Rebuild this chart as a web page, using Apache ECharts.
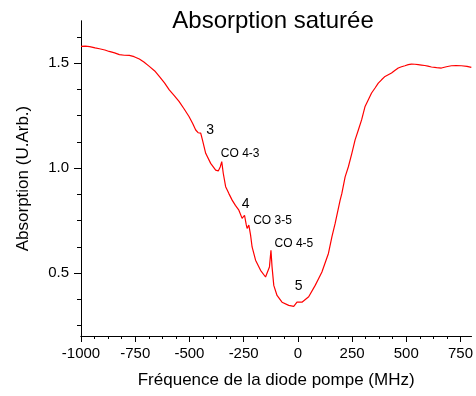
<!DOCTYPE html>
<html>
<head>
<meta charset="utf-8">
<script src="https://cdn.jsdelivr.net/npm/echarts@6/dist/echarts.min.js"></script>
<style>
  html, body { margin: 0; padding: 0; background: #fff; }
  #chart { width: 476px; height: 396px; }
</style>
</head>
<body>
<div id="chart"></div>
<script>
// Saturated-absorption scan: pump diode detuning (MHz) vs absorption (arb. units)
const frequency = [
  -1000, -980, -960, -935, -915, -890, -870, -845, -823, -800, -777, -755, -731, -710,
  -685, -660, -639, -615, -593, -570, -548, -525, -502, -485, -471, -460, -448,
  -440, -425, -402, -379, -367, -358, -351, -344, -333, -318, -303, -288, -272,
  -257, -246, -238, -234, -226, -218, -211, -195, -172, -149, -142, -131, -124,
  -119, -111, -96, -73, -42, -19, -4, 4, 19, 50, 80, 96, 111, 141, 157, 172, 195,
  203, 218, 233, 249, 264, 279, 294, 310, 325, 340, 356, 371, 386, 402, 417, 432,
  447, 463, 478, 494, 509, 524, 540, 555, 570, 585, 600, 616, 640, 662, 685, 708,
  730, 754, 780, 800
];
const absorption = [
  1.579, 1.580, 1.578, 1.572, 1.568, 1.562, 1.555, 1.548, 1.540, 1.537, 1.536, 1.530, 1.519, 1.505,
  1.484, 1.462, 1.436, 1.405, 1.372, 1.345, 1.317, 1.282, 1.245, 1.212, 1.181, 1.168, 1.166,
  1.134, 1.070, 1.022, 0.990, 0.986, 1.005, 1.030, 0.975, 0.911, 0.878, 0.847, 0.822, 0.799,
  0.760, 0.775, 0.730, 0.712, 0.728, 0.680, 0.624, 0.561, 0.513, 0.481, 0.473, 0.529, 0.608,
  0.529, 0.441, 0.393, 0.361, 0.346, 0.341, 0.361, 0.354, 0.361, 0.387, 0.441, 0.474, 0.505, 0.593, 0.672, 0.736, 0.847,
  0.879, 0.958, 1.006, 1.070, 1.134, 1.181, 1.229, 1.293, 1.325, 1.357, 1.381, 1.404, 1.420, 1.436, 1.444, 1.452,
  1.464, 1.476, 1.482, 1.487, 1.492, 1.495, 1.494, 1.492, 1.490, 1.488, 1.485, 1.481, 1.478, 1.476, 1.482, 1.487,
  1.488, 1.487, 1.484, 1.479
];

// Axis ticks
const xLabels = [-1000, -750, -500, -250, 0, 250, 500, 750];
const xMinor = [-937.5, -875, -812.5, -687.5, -625, -562.5, -437.5, -375, -312.5,
  -187.5, -125, -62.5, 62.5, 125, 187.5, 312.5, 375, 437.5, 562.5, 625, 687.5];
const yLabels = [0.5, 1.0, 1.5];
const yMinor = [0.25, 0.375, 0.625, 0.75, 0.875, 1.125, 1.25, 1.375, 1.625];

// Transition annotations (text and anchor in data units)
const peakNames = ['3', 'CO 4-3', '4', 'CO 3-5', 'CO 4-5', '5'];
const peakFreq = [-405, -266, -241, -117, -18, 4];
const peakAbs = [1.181, 1.066, 0.828, 0.749, 0.638, 0.436];
const peakSize = [14, 12, 14, 12, 12, 14];

const FONT = "'Liberation Sans', Arial, sans-serif";
const chart = echarts.init(document.getElementById('chart'), null, { renderer: 'canvas' });

const axisBase = {
  type: 'value',
  axisLine: { show: true, onZero: false, lineStyle: { color: '#000', width: 1 } },
  splitLine: { show: false }
};

chart.setOption({
  backgroundColor: '#fff',
  animation: false,
  title: {
    text: 'Absorption saturée',
    left: 268,
    top: 4,
    textAlign: 'center',
    textStyle: { fontFamily: FONT, fontSize: 24, fontWeight: 'normal', color: '#000' }
  },
  grid: { left: 81, right: 2, top: 21, bottom: 60 },
  xAxis: [
    Object.assign({}, axisBase, {
      min: -1000, max: 800,
      position: 'bottom',
      name: 'Fréquence de la diode pompe (MHz)',
      nameLocation: 'middle',
      nameGap: 36,
      nameTextStyle: { fontFamily: FONT, fontSize: 17, color: '#000' },
      axisTick: { show: true, inside: false, length: 6, customValues: xLabels, lineStyle: { color: '#000' } },
      axisLabel: { show: true, margin: 10, customValues: xLabels, fontFamily: FONT, fontSize: 15, color: '#000',
        formatter: v => String(v) }
    }),
    Object.assign({}, axisBase, {
      min: -1000, max: 800,
      position: 'bottom',
      offset: 0,
      axisTick: { show: true, inside: false, length: 3, customValues: xMinor, lineStyle: { color: '#000' } },
      axisLabel: { show: false }
    })
  ],
  yAxis: [
    Object.assign({}, axisBase, {
      min: 0.2, max: 1.7,
      position: 'left',
      name: 'Absorption (U.Arb.)',
      nameLocation: 'middle',
      nameGap: 49,
      nameTextStyle: { fontFamily: FONT, fontSize: 17, color: '#000' },
      axisTick: { show: true, inside: false, length: 7, customValues: yLabels, lineStyle: { color: '#000' } },
      axisLabel: { show: true, margin: 12, customValues: yLabels, fontFamily: FONT, fontSize: 15, color: '#000',
        formatter: v => v.toFixed(1) }
    }),
    Object.assign({}, axisBase, {
      min: 0.2, max: 1.7,
      position: 'left',
      offset: 0,
      axisTick: { show: true, inside: false, length: 4, customValues: yMinor, lineStyle: { color: '#000' } },
      axisLabel: { show: false }
    })
  ],
  series: [{
    type: 'line',
    xAxisIndex: 0,
    yAxisIndex: 0,
    data: frequency.map((f, i) => [f, absorption[i]]),
    showSymbol: false,
    symbol: 'none',
    smooth: false,
    lineStyle: { color: '#ff0000', width: 1.2 },
    markPoint: {
      symbol: 'circle',
      symbolSize: 0,
      itemStyle: { color: 'rgba(0,0,0,0)' },
      silent: true,
      data: peakNames.map((n, i) => ({
        name: n,
        coord: [peakFreq[i], peakAbs[i]],
        label: {
          show: true,
          position: 'inside',
          formatter: '{b}',
          fontFamily: FONT,
          fontSize: peakSize[i],
          color: '#000'
        }
      }))
    }
  }]
});
</script>
</body>
</html>
